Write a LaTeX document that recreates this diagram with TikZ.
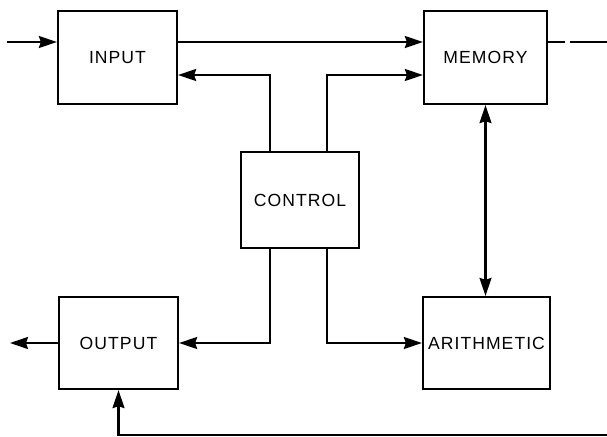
\documentclass[tikz,border=0pt]{standalone}
\usepackage{fontspec}
\setmainfont{Liberation Sans}[LetterSpace=6]
\usepackage{tikz}
\usetikzlibrary{arrows.meta, positioning, calc}
\tikzset{
    % Boxes of the machine
    unit/.style={
        rectangle,
        draw=black,
        fill=white,
        line width=1.3pt,
        minimum width=2.38cm,
        minimum height=1.86cm,
        inner sep=0pt,
        align=center,
        font=\fontsize{10}{12}\selectfont
    },
    % Connectors
    wire/.style={
        line width=1.2pt,
        black
    },
    arrow style/.style={
        wire,
        -{Stealth[length=3.6mm,width=2.4mm,inset=0.4mm]}
    },
    biarrow style/.style={
        wire,
        {Stealth[length=3.6mm,width=2.4mm,inset=0.4mm]}-{Stealth[length=3.6mm,width=2.4mm,inset=0.4mm]}
    }
}
\begin{document}
\begin{tikzpicture}
    \useasboundingbox (0,0) rectangle (12.14,-8.74);

    % Units
    \node[unit] (input) at (2.35,-1.15) {INPUT};
    \node[unit, minimum width=2.46cm] (memory) at (9.71,-1.15) {MEMORY};
    \node[unit, minimum width=2.36cm, minimum height=1.92cm] (control) at (6.0,-4.0) {CONTROL};
    \node[unit, minimum height=1.84cm] (output) at (2.37,-6.86) {OUTPUT};
    \node[unit, minimum width=2.54cm, minimum height=1.84cm] (arithmetic) at (9.73,-6.86) {ARITHMETIC};

    % Free ends and levels
    \coordinate (datain) at (0.14,-0.84);
    \coordinate (memout) at (12.14,-0.84);
    \coordinate (ctrlup) at (0,-1.5);
    \coordinate (dataout) at (0.2,-6.86);
    \coordinate (feedback) at (12.14,-8.70);

    % Data path
    \draw[arrow style] (datain) -- (input.west |- datain);
    \draw[arrow style] (input.east |- datain) -- (memory.west |- datain);
    \draw[wire, dash pattern=on 0.34cm off 0.1cm on 3cm] (memory.east |- memout) -- (memout);
    \draw[biarrow style] (memory.south) -- (memory.south |- arithmetic.north);
    \draw[arrow style] (output.west) -- (dataout);
    \draw[arrow style] (feedback) -| (output.south);

    % Control lines
    \draw[arrow style] ([xshift=-6mm]control.north) |- (input.east |- ctrlup);
    \draw[arrow style] ([xshift=5.4mm]control.north) |- (memory.west |- ctrlup);
    \draw[arrow style] ([xshift=-6mm]control.south) |- (output.east);
    \draw[arrow style] ([xshift=5.4mm]control.south) |- (arithmetic.west);
\end{tikzpicture}
\end{document}
